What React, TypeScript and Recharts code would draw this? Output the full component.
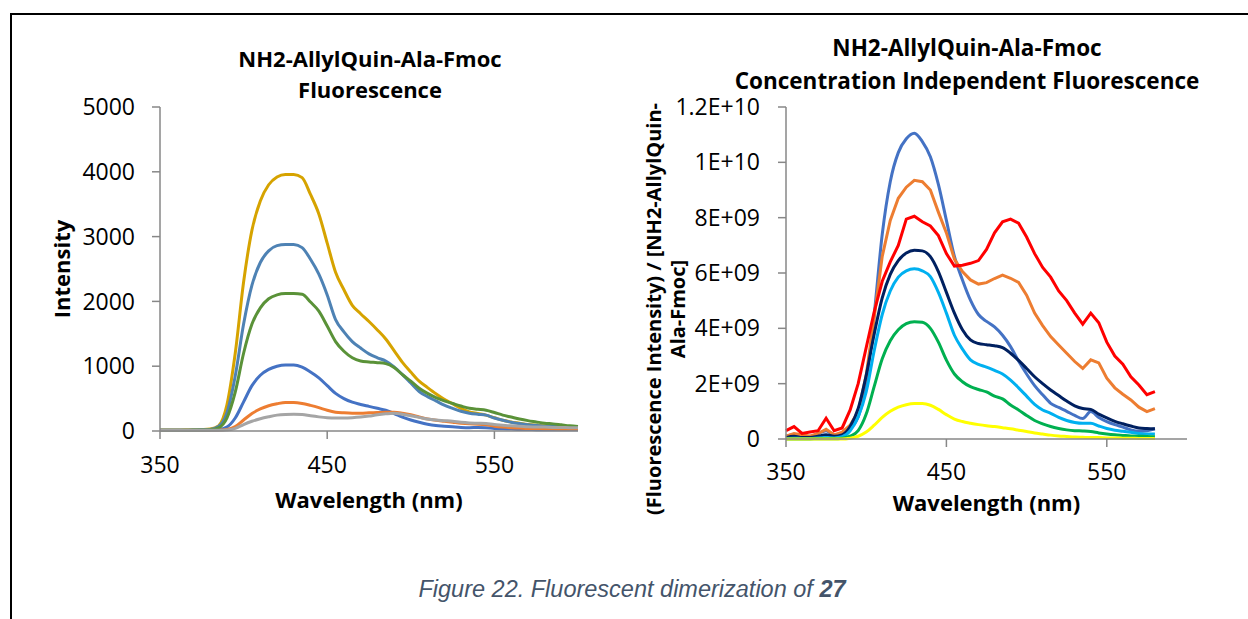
import React from 'react';
import { LineChart, Line, XAxis, YAxis } from 'recharts';

const FONT = '"Open Sans", "Noto Sans", sans-serif';

// ---------- Left chart data ----------
const wlLeft = [350,355,360,365,370,375,380,385,390,395,400,405,410,415,420,425,430,435,440,445,450,455,460,465,470,475,480,485,490,495,500,505,510,515,520,525,530,535,540,545,550,555,560,565,570,575,580,585,590,595,600];
const leftBlue = [10,10,10,10,12,15,15,20,60,200,450,700,860,950,1000,1020,1020,985,910,820,700,580,500,445,410,380,350,320,270,215,170,135,105,85,75,65,55,50,55,50,40,35,30,25,25,20,20,20,20,20,20];
const leftOrange = [10,10,10,10,12,12,15,15,25,70,170,270,340,390,420,440,440,425,395,360,320,290,280,275,275,280,285,290,290,275,250,215,185,165,150,135,120,110,105,95,75,60,50,45,40,40,35,35,30,30,30];
const leftGold = [10,10,10,15,15,20,30,80,400,1200,2300,3100,3550,3800,3920,3960,3960,3910,3650,3350,2900,2450,2180,1940,1810,1690,1560,1420,1240,1060,910,770,670,575,490,420,350,295,270,245,205,165,140,120,100,88,80,75,70,62,58];
const leftSteel = [10,10,10,12,15,18,25,70,280,850,1650,2250,2600,2780,2860,2880,2880,2830,2650,2420,2100,1720,1530,1380,1280,1190,1130,1080,990,870,740,610,530,465,400,350,305,275,258,245,200,165,135,115,95,85,75,70,65,60,55];
const leftGreen = [10,10,10,12,15,15,20,50,200,600,1200,1650,1900,2040,2100,2120,2120,2110,1990,1850,1620,1380,1230,1130,1080,1065,1055,1040,980,870,770,660,580,515,465,425,385,350,335,320,285,245,215,185,160,140,120,110,95,80,70];
const leftGray = [10,10,10,10,10,12,12,12,15,40,100,150,190,220,245,255,258,255,235,218,205,200,200,205,215,230,250,265,275,260,235,210,185,170,160,150,135,125,120,115,100,90,80,75,65,60,60,55,55,50,50];
const leftXTicks = [350, 450, 550];
const leftYTicks = [0, 1000, 2000, 3000, 4000, 5000];

// ---------- Right chart data (units of 1E+09) ----------
const wlRight = [350,355,360,365,370,375,380,385,390,395,400,405,410,415,420,425,430,435,440,445,450,455,460,465,470,475,480,485,490,495,500,505,510,515,520,525,530,535,540,545,550,555,560,565,570,575,580];
const rightBlue = [0.1,0.15,0.1,0.1,0.2,0.3,0.15,0.2,0.4,0.8,2.0,4.5,7.4,9.3,10.35,10.85,11.05,10.75,10.2,9.2,7.9,6.6,5.75,5.02,4.5,4.25,4.05,3.75,3.34,2.82,2.35,1.93,1.6,1.29,1.14,1.0,0.85,0.74,0.99,0.78,0.63,0.52,0.43,0.33,0.28,0.3,0.37];
const rightOrange = [0.1,0.2,0.15,0.1,0.2,0.35,0.15,0.25,0.5,1.0,2.3,4.4,6.6,7.9,8.7,9.1,9.35,9.3,9.0,8.2,7.45,6.5,6.05,5.75,5.6,5.65,5.8,5.92,5.81,5.66,5.2,4.55,4.1,3.7,3.4,3.1,2.8,2.55,2.86,2.75,2.2,1.85,1.62,1.41,1.15,0.99,1.1];
const rightNavy = [0.05,0.1,0.05,0.05,0.1,0.15,0.1,0.15,0.45,1.1,2.3,3.8,5.1,5.95,6.45,6.72,6.82,6.8,6.59,6.05,5.3,4.55,3.95,3.58,3.45,3.41,3.37,3.3,3.1,2.84,2.55,2.25,2.0,1.77,1.57,1.37,1.2,1.1,1.07,0.9,0.76,0.64,0.55,0.47,0.4,0.38,0.37];
const rightLight = [0.02,0.03,0.02,0.02,0.04,0.05,0.04,0.08,0.3,0.8,1.7,3.2,4.5,5.35,5.85,6.08,6.15,6.08,5.87,5.3,4.55,3.75,3.25,2.86,2.7,2.6,2.48,2.35,2.13,1.85,1.55,1.25,1.05,0.93,0.78,0.67,0.6,0.57,0.57,0.47,0.38,0.32,0.28,0.24,0.2,0.18,0.18];
const rightGreen = [0,0,0,0,0.01,0.01,0.01,0.03,0.1,0.3,0.9,1.9,2.9,3.55,3.95,4.17,4.24,4.22,4.0,3.5,2.85,2.35,2.07,1.89,1.79,1.7,1.55,1.45,1.23,1.05,0.85,0.67,0.55,0.45,0.38,0.33,0.3,0.29,0.27,0.22,0.18,0.15,0.13,0.11,0.1,0.09,0.08];
const rightYellow = [0,0,0,0,0,0,0,0,0.03,0.1,0.25,0.5,0.78,1.0,1.15,1.24,1.28,1.28,1.22,1.07,0.88,0.72,0.63,0.57,0.52,0.48,0.45,0.41,0.37,0.32,0.27,0.22,0.18,0.14,0.11,0.09,0.07,0.06,0.05,0.05,0.04,0.04,0.03,0.03,0.02,0.02,0.02];
const rightRed = [0.3,0.45,0.2,0.25,0.3,0.75,0.3,0.4,1.05,2.0,3.3,4.6,5.7,6.4,7.0,7.95,8.05,7.85,7.7,7.35,6.7,6.25,6.28,6.35,6.45,6.85,7.45,7.85,7.95,7.8,7.3,6.7,6.2,5.85,5.35,5.0,4.55,4.15,4.55,4.2,3.5,3.0,2.7,2.25,1.95,1.6,1.71];
const RIGHT_UNIT = 1e9;
const rightXTicks = [350, 450, 550];
const rightYTicks = [0, 2e9, 4e9, 6e9, 8e9, 1e10, 1.2e10];
const rightYLabels = ['0', '2E+09', '4E+09', '6E+09', '8E+09', '1E+10', '1.2E+10'];

const leftTable = wlLeft.map((w, i) => ({
  w,
  blue: leftBlue[i],
  orange: leftOrange[i],
  gold: leftGold[i],
  steel: leftSteel[i],
  green: leftGreen[i],
  gray: leftGray[i],
}));

const rightTable = wlRight.map((w, i) => ({
  w,
  blue: rightBlue[i] * RIGHT_UNIT,
  orange: rightOrange[i] * RIGHT_UNIT,
  navy: rightNavy[i] * RIGHT_UNIT,
  light: rightLight[i] * RIGHT_UNIT,
  green: rightGreen[i] * RIGHT_UNIT,
  yellow: rightYellow[i] * RIGHT_UNIT,
  red: rightRed[i] * RIGHT_UNIT,
}));

const AXIS = '#878787';
const tickStyle = { fontSize: 23, fontFamily: FONT, fill: '#000' };
const titleStyle: React.CSSProperties = {
  position: 'absolute',
  fontFamily: FONT,
  fontWeight: 700,
  fontSize: 22,
  color: '#000',
  textAlign: 'center',
  lineHeight: '31px',
  whiteSpace: 'nowrap',
};

const axisTitleProps = {
  fontFamily: FONT,
  fontWeight: 700,
  fontSize: 22,
  fill: '#000',
};

const makeXLabel = (dy: number) => (props: any) => {
  const vb = props.viewBox || {};
  const cx = vb.x + vb.width / 2;
  const cy = vb.y + dy;
  return (
    <text x={cx} y={cy} textAnchor="middle" dominantBaseline="central" {...axisTitleProps}>
      Wavelength (nm)
    </text>
  );
};

const leftYLabel = (props: any) => {
  const vb = props.viewBox || {};
  const cx = vb.x + 61;
  const cy = vb.y + vb.height / 2;
  return (
    <text x={cx} y={cy} transform={`rotate(-90 ${cx} ${cy})`} textAnchor="middle" dominantBaseline="central" {...axisTitleProps}>
      Intensity
    </text>
  );
};

const rightYLabel = (props: any) => {
  const vb = props.viewBox || {};
  const cy = vb.y + vb.height / 2 + 36;
  const x1 = vb.x + 33;
  const x2 = vb.x + 57;
  const p = { ...axisTitleProps, fontSize: 20 };
  return (
    <g>
      <text x={x1} y={cy} transform={`rotate(-90 ${x1} ${cy})`} textAnchor="middle" dominantBaseline="central" {...p}>
        (Fluorescence Intensity) / [NH2-AllylQuin-
      </text>
      <text x={x2} y={cy} transform={`rotate(-90 ${x2} ${cy})`} textAnchor="middle" dominantBaseline="central" {...p}>
        Ala-Fmoc]
      </text>
    </g>
  );
};

export default function App() {
  return (
    <div style={{ position: 'absolute', left: 0, top: 0, width: 1248, height: 619, background: '#fff', overflow: 'hidden' }}>
      {/* frame */}
      <div style={{ position: 'absolute', left: 10, top: 13, width: 1260, height: 640, borderTop: '2px solid #000', borderLeft: '2px solid #000' }} />

      {/* left titles */}
      <div style={{ ...titleStyle, left: 170, width: 400, top: 43 }}>
        NH2-AllylQuin-Ala-Fmoc<br />Fluorescence
      </div>
      {/* right titles */}
      <div style={{ ...titleStyle, left: 667, width: 600, top: 31, lineHeight: '33px', fontSize: 22.5 }}>
        NH2-AllylQuin-Ala-Fmoc<br />Concentration Independent Fluorescence
      </div>

      {/* left chart */}
      <div style={{ position: 'absolute', left: 0, top: 0 }}>
        <LineChart width={620} height={540} data={leftTable} margin={{ top: 107, right: 42, bottom: 49, left: 0 }}>
          <XAxis
            dataKey="w"
            type="number"
            domain={[350, 600]}
            ticks={leftXTicks}
            interval={0}
            height={60}
            tickSize={8}
            tickMargin={18}
            tick={tickStyle}
            axisLine={{ stroke: AXIS, strokeWidth: 1.5 }}
            tickLine={{ stroke: AXIS, strokeWidth: 1.5 }}
            label={{ content: makeXLabel(68) }}
          />
          <YAxis
            type="number"
            domain={[0, 5000]}
            ticks={leftYTicks}
            interval={0}
            width={160}
            tickSize={8}
            tickMargin={17}
            tick={tickStyle}
            axisLine={{ stroke: AXIS, strokeWidth: 1.5 }}
            tickLine={{ stroke: AXIS, strokeWidth: 1.5 }}
            label={{ content: leftYLabel }}
          />
          <Line dataKey="blue" type="monotone" stroke="#4472C4" strokeWidth={3} dot={false} isAnimationActive={false} />
          <Line dataKey="orange" type="monotone" stroke="#ED7D31" strokeWidth={3} dot={false} isAnimationActive={false} />
          <Line dataKey="gold" type="monotone" stroke="#D6A300" strokeWidth={3} dot={false} isAnimationActive={false} />
          <Line dataKey="steel" type="monotone" stroke="#4E82B4" strokeWidth={3} dot={false} isAnimationActive={false} />
          <Line dataKey="green" type="monotone" stroke="#5A9238" strokeWidth={3} dot={false} isAnimationActive={false} />
          <Line dataKey="gray" type="monotone" stroke="#A5A5A5" strokeWidth={3} dot={false} isAnimationActive={false} />
        </LineChart>
      </div>

      {/* right chart */}
      <div style={{ position: 'absolute', left: 620, top: 0 }}>
        <LineChart width={628} height={540} data={rightTable} margin={{ top: 107, right: 61, bottom: 41, left: 0 }}>
          <XAxis
            dataKey="w"
            type="number"
            domain={[350, 600]}
            ticks={rightXTicks}
            interval={0}
            height={60}
            tickSize={8}
            tickMargin={17}
            tick={tickStyle}
            axisLine={{ stroke: AXIS, strokeWidth: 1.5 }}
            tickLine={{ stroke: AXIS, strokeWidth: 1.5 }}
            label={{ content: makeXLabel(63) }}
          />
          <YAxis
            type="number"
            domain={[0, 1.2e10]}
            ticks={rightYTicks}
            interval={0}
            width={166}
            tickSize={8}
            tickMargin={18}
            tick={tickStyle}
            tickFormatter={(v: number) => rightYLabels[rightYTicks.indexOf(v)] ?? String(v)}
            axisLine={{ stroke: AXIS, strokeWidth: 1.5 }}
            tickLine={{ stroke: AXIS, strokeWidth: 1.5 }}
            label={{ content: rightYLabel }}
          />
          <Line dataKey="blue" type="monotone" stroke="#4472C4" strokeWidth={3} dot={false} isAnimationActive={false} />
          <Line dataKey="orange" type="linear" stroke="#ED7D31" strokeWidth={3} dot={false} isAnimationActive={false} />
          <Line dataKey="navy" type="monotone" stroke="#002060" strokeWidth={3} dot={false} isAnimationActive={false} />
          <Line dataKey="light" type="monotone" stroke="#00B0F0" strokeWidth={3} dot={false} isAnimationActive={false} />
          <Line dataKey="green" type="monotone" stroke="#00B050" strokeWidth={3} dot={false} isAnimationActive={false} />
          <Line dataKey="yellow" type="monotone" stroke="#FFFF00" strokeWidth={3} dot={false} isAnimationActive={false} />
          <Line dataKey="red" type="linear" stroke="#FF0000" strokeWidth={3} dot={false} isAnimationActive={false} />
        </LineChart>
      </div>

      {/* caption */}
      <div style={{ position: 'absolute', left: 332, width: 600, top: 575, textAlign: 'center', fontFamily: '"Liberation Sans", Arial, sans-serif', fontStyle: 'italic', fontSize: 23.5, color: '#44546A', lineHeight: '28px', whiteSpace: 'nowrap' }}>
        Figure 22. Fluorescent dimerization of <b>27</b>
      </div>
    </div>
  );
}
